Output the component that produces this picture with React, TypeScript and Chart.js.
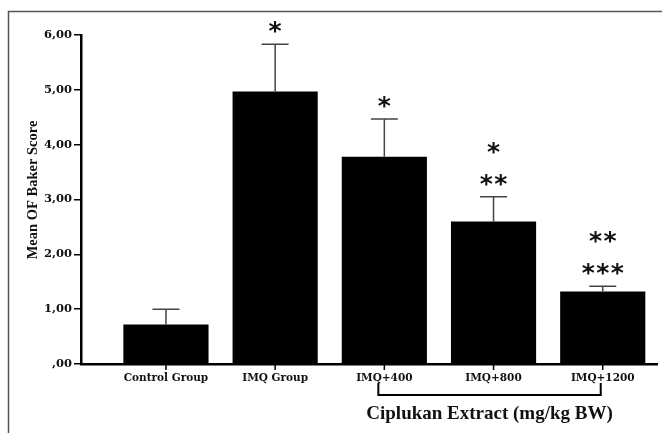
import React, { useEffect, useRef } from "react";
import { Chart, registerables } from "chart.js";

Chart.register(...registerables);

const categories = ["Control Group", "IMQ Group", "IMQ+400", "IMQ+800", "IMQ+1200"];
const means = [0.72, 4.97, 3.78, 2.6, 1.32];
const errors = [0.28, 0.86, 0.69, 0.45, 0.1];
// significance marks per category, listed from bottom row to top row
const significance: string[][] = [[], ["*"], ["*"], ["**", "*"], ["***", "**"]];
const yTicks = [0, 1, 2, 3, 4, 5, 6];
const yTitle = "Mean OF Baker Score";
const groupLabel = "Ciplukan Extract (mg/kg BW)";
const groupRange = [2, 4];

const formatTick = (v: number) => (v === 0 ? ",00" : `${v},00`);

const annotationPlugin = {
  id: "annotations",
  afterDatasetsDraw(chart: any) {
    const ctx = chart.ctx;
    const y = chart.scales.y;
    const meta = chart.getDatasetMeta(0);
    ctx.save();
    ctx.strokeStyle = "#444";
    ctx.lineWidth = 1.5;
    means.forEach((m, i) => {
      const bar = meta.data[i];
      if (!bar) return;
      const x = bar.x;
      const y1 = y.getPixelForValue(m);
      const y2 = y.getPixelForValue(m + errors[i]);
      ctx.beginPath();
      ctx.moveTo(x, y1);
      ctx.lineTo(x, y2);
      ctx.moveTo(x - 13.5, y2);
      ctx.lineTo(x + 13.5, y2);
      ctx.stroke();
      ctx.fillStyle = "#111";
      ctx.font = "bold 25px 'DejaVu Sans'";
      ctx.textAlign = "center";
      ctx.textBaseline = "alphabetic";
      const mm = ctx.measureText("*");
      const off = (mm.actualBoundingBoxAscent - mm.actualBoundingBoxDescent) / 2;
      significance[i].forEach((s, k) => {
        const cy = y2 - 17 - 32 * k;
        const n = s.length;
        for (let j = 0; j < n; j++) {
          const cx = x + (j - (n - 1) / 2) * 14.5;
          ctx.fillText("*", cx, cy + off);
        }
      });
    });
    ctx.restore();
  },
  afterDraw(chart: any) {
    const ctx = chart.ctx;
    const xs = chart.scales.x;
    const area = chart.chartArea;
    ctx.save();
    const x1 = xs.getPixelForValue(groupRange[0]) - 6;
    const x2 = xs.getPixelForValue(groupRange[1]) - 2;
    const yTop = area.bottom + 19;
    const yBot = area.bottom + 31;
    ctx.strokeStyle = "#000";
    ctx.lineWidth = 2;
    ctx.beginPath();
    ctx.moveTo(x1, yTop);
    ctx.lineTo(x1, yBot);
    ctx.lineTo(x2, yBot);
    ctx.lineTo(x2, yTop);
    ctx.stroke();
    // small tick marks under each category
    ctx.lineWidth = 1.5;
    ctx.beginPath();
    categories.forEach((_, i) => {
      const x = xs.getPixelForValue(i);
      ctx.moveTo(x, area.bottom);
      ctx.lineTo(x, area.bottom + 6);
    });
    ctx.stroke();
    ctx.fillStyle = "#111";
    ctx.font = "bold 19px 'Liberation Serif'";
    ctx.textAlign = "center";
    ctx.textBaseline = "middle";
    ctx.fillText(groupLabel, (x1 + x2) / 2, area.bottom + 50);
    ctx.save();
    ctx.translate(33, 190);
    ctx.rotate(-Math.PI / 2);
    ctx.font = "bold 14.5px 'Liberation Serif'";
    ctx.fillText(yTitle, 0, 0);
    ctx.restore();
    ctx.strokeStyle = "#555";
    ctx.lineWidth = 1.5;
    ctx.beginPath();
    ctx.moveTo(8.5, chart.height);
    ctx.lineTo(8.5, 11.5);
    ctx.lineTo(chart.width, 11.5);
    ctx.stroke();
    ctx.restore();
  },
};

export default function App() {
  const ref = useRef<HTMLCanvasElement | null>(null);
  useEffect(() => {
    if (!ref.current) return;
    const xFont = { family: "'DejaVu Serif'", weight: "bold" as const, size: 10.5 };
    const yFont = { family: "'DejaVu Serif'", weight: "bold" as const, size: 11.5 };
    const chart = new Chart(ref.current, {
      type: "bar",
      data: {
        datasets: [
          {
            data: categories.map((_, i) => ({ x: i, y: means[i] })),
            backgroundColor: "#000",
            borderWidth: 0,
            barPercentage: 0.78,
            categoryPercentage: 1,
          },
        ],
      },
      options: {
        responsive: true,
        maintainAspectRatio: false,
        animation: false,
        layout: { padding: { top: 35, right: 5, left: 0, bottom: 0 } },
        plugins: { legend: { display: false }, tooltip: { enabled: false } },
        scales: {
          x: {
            type: "linear",
            min: -0.778,
            max: 4.497,
            offset: false,
            afterFit: (s: any) => {
              s.height = 69;
            },
            afterBuildTicks: (s: any) => {
              s.ticks = categories.map((_, i) => ({ value: i }));
            },
            ticks: {
              callback: (v: any) => categories[v as number] ?? "",
              font: xFont,
              color: "#111",
              padding: 8,
              maxRotation: 0,
              autoSkip: false,
            },
            grid: { display: false, drawTicks: false },
            border: { display: true, color: "#000", width: 2.5 },
          },
          y: {
            min: yTicks[0],
            max: yTicks[yTicks.length - 1],
            afterFit: (s: any) => {
              s.width = 81;
            },
            afterBuildTicks: (s: any) => {
              s.ticks = yTicks.map((v) => ({ value: v }));
            },
            ticks: {
              callback: (v: any) => formatTick(v as number),
              font: yFont,
              color: "#111",
              padding: 2,
            },
            grid: { drawOnChartArea: false, drawTicks: true, tickLength: 7, color: "#000", lineWidth: 1.5 },
            border: { display: true, color: "#000", width: 2.5 },
          },
        },
      },
      plugins: [annotationPlugin],
    });
    return () => chart.destroy();
  }, []);
  return (
    <div style={{ position: "fixed", left: 0, top: 0, width: 662, height: 433, background: "#fff" }}>
      <canvas ref={ref} style={{ display: "block" }} />
    </div>
  );
}
